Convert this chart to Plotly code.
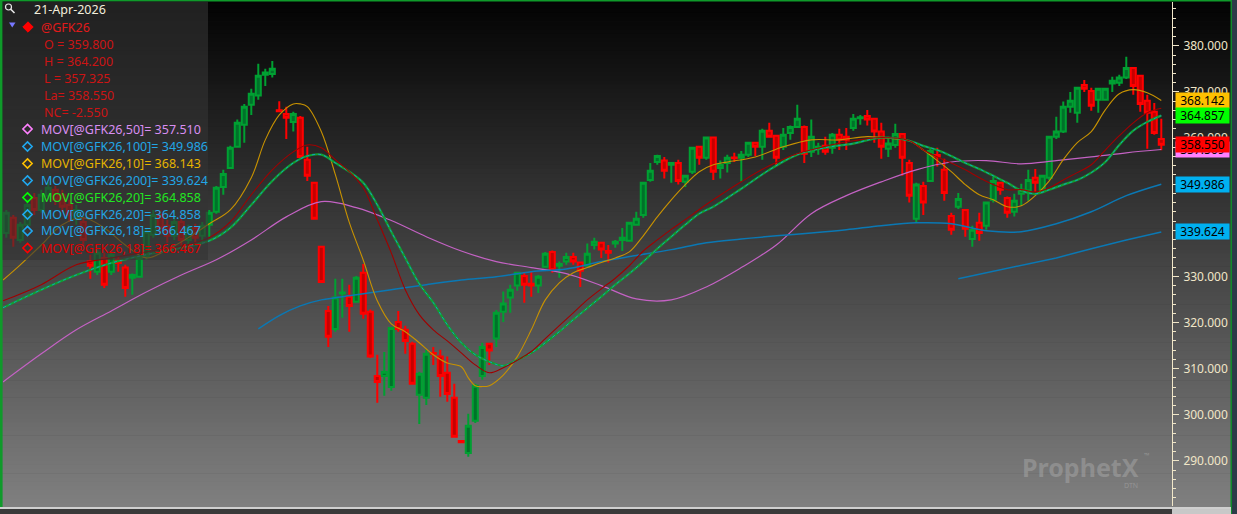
import plotly.graph_objects as go

# ---------------- data ----------------
bar_index = list(range(166))

opens = [339.4, 342.7, 337.9, 341.2, 347.0, 344.4, 347.5, 348.8, 347.7, 345.5,
         342.7, 341.8, 333.2, 331.0, 334.0, 331.0, 333.6, 331.9, 329.7, 329.9,
         334.2, 339.0, 343.3, 341.0, 338.8, 341.8, 337.9, 340.5, 338.8, 341.2,
         344.0, 349.4, 353.5, 358.1, 362.9, 367.2, 369.2, 373.7, 373.9, 366.0,
         365.2, 363.5, 364.4, 355.3, 350.3, 336.4, 322.5, 318.6, 326.3, 325.6,
         324.5, 330.8, 322.3, 308.4, 308.4, 306.0, 320.1, 318.4, 315.4, 304.3,
         303.7, 313.4, 312.6, 309.1, 303.7, 294.3, 291.7, 298.7, 308.4, 315.4,
         316.5, 322.3, 325.4, 328.0, 330.1, 328.4, 328.0, 332.1, 335.3, 332.3,
         333.2, 334.2, 333.0, 332.3, 336.8, 337.3, 335.5, 337.1, 337.9, 337.7,
         341.2, 343.3, 350.9, 354.8, 355.1, 354.2, 354.6, 350.5, 352.7, 358.1,
         355.7, 360.1, 353.5, 354.6, 355.8, 355.7, 356.4, 359.0, 358.1, 361.6,
         360.5, 358.1, 361.1, 362.4, 362.4, 357.0, 357.9, 358.3, 357.9, 360.7,
         360.3, 362.2, 364.3, 364.8, 364.2, 361.4, 357.7, 358.5, 360.9, 354.6,
         342.5, 349.6, 350.7, 356.3, 353.1, 343.1, 345.1, 344.4, 338.1, 341.6,
         341.0, 346.6, 350.3, 347.0, 344.0, 347.9, 348.6, 351.4, 348.8, 351.4,
         360.3, 361.4, 366.8, 365.5, 371.5, 370.2, 368.3, 368.3, 371.8, 372.0,
         373.1, 375.2, 373.5, 368.1, 365.7, 359.8]
highs = [344.4, 343.3, 341.8, 346.6, 348.1, 348.8, 350.5, 349.6, 348.8, 346.6,
         345.5, 342.7, 334.7, 335.8, 335.1, 335.3, 334.2, 332.5, 330.6, 334.5,
         340.5, 344.4, 344.4, 342.3, 342.7, 342.7, 341.2, 341.4, 341.8, 344.4,
         349.6, 353.1, 358.3, 364.0, 367.4, 370.7, 376.1, 375.0, 376.7, 368.0,
         366.8, 365.7, 364.8, 358.1, 350.5, 336.6, 323.6, 329.5, 329.5, 328.2,
         330.1, 332.7, 322.8, 313.0, 313.6, 318.8, 322.5, 319.3, 315.8, 309.3,
         314.1, 314.7, 314.1, 312.6, 306.7, 294.4, 300.2, 306.7, 315.6, 315.6,
         322.7, 326.7, 328.2, 331.0, 330.8, 331.0, 330.3, 335.3, 335.6, 333.2,
         335.1, 335.1, 333.2, 337.1, 338.4, 337.5, 336.8, 337.9, 340.5, 341.8,
         344.0, 350.5, 354.6, 356.4, 355.9, 354.8, 355.3, 352.0, 358.1, 358.3,
         360.3, 360.3, 355.1, 356.4, 356.8, 357.2, 359.2, 359.2, 362.0, 363.3,
         360.7, 362.2, 362.7, 367.2, 362.7, 364.0, 359.0, 360.3, 361.1, 362.0,
         362.2, 365.2, 365.0, 366.1, 364.2, 363.3, 360.3, 363.1, 361.1, 355.3,
         350.3, 350.5, 357.7, 357.9, 355.5, 343.8, 348.1, 344.6, 341.0, 343.8,
         346.2, 351.6, 350.5, 347.3, 347.9, 350.1, 353.1, 353.3, 352.0, 360.5,
         364.6, 367.9, 370.0, 371.1, 372.6, 370.9, 370.7, 370.9, 373.3, 373.7,
         377.6, 375.4, 373.7, 369.4, 367.6, 364.2]
lows = [338.4, 336.4, 337.3, 340.5, 343.3, 343.8, 346.6, 345.5, 344.0, 341.8,
        341.2, 336.8, 329.5, 330.3, 327.5, 330.3, 331.0, 325.6, 326.0, 329.7,
        333.6, 338.4, 339.0, 337.3, 337.9, 336.6, 335.8, 337.1, 337.5, 338.6,
        343.6, 347.7, 353.3, 357.9, 359.0, 365.0, 368.3, 371.3, 373.1, 365.7,
        359.8, 361.4, 355.7, 350.7, 342.3, 328.6, 314.7, 318.0, 321.0, 318.0,
        324.3, 320.8, 312.3, 302.6, 304.1, 305.2, 318.0, 313.2, 306.5, 298.0,
        302.1, 310.8, 303.9, 302.8, 295.0, 293.9, 290.9, 298.2, 307.6, 310.8,
        314.7, 320.1, 322.1, 326.9, 324.3, 325.6, 326.4, 331.9, 330.8, 329.7,
        332.5, 332.5, 327.7, 332.1, 335.8, 334.0, 333.0, 336.2, 335.5, 337.5,
        341.0, 342.7, 350.5, 354.2, 351.2, 350.3, 349.9, 349.4, 352.2, 354.2,
        355.3, 350.9, 351.2, 352.5, 354.8, 350.5, 355.9, 356.1, 355.3, 360.1,
        353.8, 357.4, 359.6, 362.2, 354.6, 355.9, 356.4, 356.4, 356.6, 357.4,
        357.4, 361.6, 362.9, 362.7, 359.0, 355.5, 355.9, 357.9, 351.8, 346.0,
        341.6, 343.3, 350.5, 353.8, 346.4, 339.0, 344.6, 338.6, 336.4, 337.7,
        340.1, 346.0, 347.7, 342.7, 343.0, 345.3, 346.4, 348.3, 348.3, 350.9,
        359.8, 361.1, 365.5, 363.3, 370.0, 365.9, 365.5, 368.1, 370.0, 371.3,
        372.8, 369.4, 365.7, 357.7, 360.7, 357.325]
closes = [343.8, 338.4, 341.2, 345.5, 344.4, 347.7, 349.2, 346.6, 345.1, 343.3,
          344.4, 337.9, 332.3, 335.1, 328.2, 334.7, 332.9, 327.5, 330.3, 334.0,
          339.7, 343.3, 340.5, 338.8, 341.8, 337.9, 340.5, 338.4, 341.0, 343.8,
          349.2, 352.2, 357.9, 363.3, 366.8, 369.6, 373.5, 374.2, 375.0, 365.8,
          364.4, 365.2, 355.9, 351.8, 342.5, 328.8, 316.9, 325.4, 326.5, 323.6,
          329.7, 321.9, 312.6, 307.1, 309.3, 318.8, 318.6, 316.0, 306.7, 308.9,
          313.2, 313.2, 308.4, 304.5, 295.2, 294.0, 297.6, 306.3, 314.7, 313.9,
          322.1, 324.1, 327.1, 330.8, 328.2, 328.0, 329.9, 334.9, 331.4, 332.7,
          334.2, 333.2, 331.2, 334.9, 337.5, 335.8, 335.1, 337.5, 338.4, 341.6,
          342.5, 350.3, 352.9, 356.1, 352.9, 354.6, 350.7, 351.8, 357.9, 355.7,
          360.1, 352.7, 354.2, 355.7, 355.6, 356.4, 359.0, 358.1, 361.6, 360.3,
          355.7, 360.7, 362.4, 364.2, 356.6, 360.3, 358.1, 357.0, 360.7, 359.6,
          359.6, 364.2, 364.5, 364.0, 361.4, 358.1, 358.8, 360.9, 355.7, 347.5,
          349.9, 346.0, 357.2, 356.0, 348.1, 340.1, 346.8, 340.3, 340.1, 339.4,
          346.0, 350.7, 348.8, 343.8, 346.4, 348.8, 350.9, 350.3, 351.8, 360.3,
          361.4, 366.8, 368.1, 370.9, 370.7, 367.0, 370.7, 370.7, 372.4, 373.1,
          375.2, 371.3, 367.4, 365.5, 361.1, 358.55]

# moving-average lines, values at these bar positions
ma10_idx = [-0.47, 2, 5, 8, 11, 14, 17, 20, 23, 26, 29, 32, 35, 37, 39, 41, 42, 43, 45, 47,
            49, 51, 53, 55, 57, 59, 61, 63, 65, 66, 67, 68, 69, 71, 73, 75, 77, 79, 81, 83,
            85, 87, 89, 91, 93, 95, 97, 99, 101, 103, 107, 111, 115, 119, 123, 127, 129, 131, 133, 135,
            137, 139, 141, 143, 145, 147, 149, 151, 153, 155, 157, 159, 161, 163, 165]
ma10_val = [329.2, 332.5, 336.8, 341.2, 342.7, 340.5, 336.8, 334.0, 335.8, 338.4,
            341.4, 344.4, 351.4, 359.6, 365.0, 367.4, 367.4, 366.8, 361.4, 352.1,
            341.7, 333.5, 324.7, 319.7, 318.0, 315.6, 313.0, 311.2, 310.4, 308.0,
            306.3, 306.1, 306.3, 308.6, 312.6, 318.4, 324.9, 328.6, 330.8, 331.9,
            333.0, 334.0, 335.3, 338.8, 342.9, 346.6, 349.9, 352.7, 354.2, 354.8,
            355.9, 358.1, 359.6, 359.6, 360.3, 359.8, 359.4, 357.4, 355.1, 352.7,
            349.9, 347.7, 346.6, 345.1, 345.3, 347.5, 350.7, 355.3, 359.0, 361.4,
            366.1, 369.6, 370.5, 369.8, 368.142]

ma_fast_idx = [-0.47, 5, 10, 15, 20, 25, 29, 32, 35, 38, 41, 43, 45, 47, 49, 51, 53, 55, 57, 59,
               61, 63, 65, 67, 69, 71, 73, 75, 77, 79, 81, 83, 85, 87, 89, 91, 93, 95, 97, 99,
               101, 105, 109, 113, 117, 121, 125, 129, 131, 133, 135, 137, 139, 141, 143, 145, 147, 149, 151, 153,
               155, 157, 159, 161, 163, 165]
ma20_val = [323.2, 327.1, 330.3, 332.9, 334.7, 336.2, 337.7, 340.5, 345.5, 350.7,
            354.6, 356.1, 356.4, 354.6, 352.7, 350.3, 345.5, 339.7, 334.0, 328.4,
            324.3, 319.5, 315.6, 313.0, 311.5, 310.6, 311.9, 313.4, 315.6, 318.0,
            320.6, 323.1, 325.6, 328.2, 330.6, 333.2, 336.0, 338.6, 341.2, 343.6,
            345.1, 349.0, 353.1, 356.4, 357.9, 358.8, 360.1, 359.4, 358.3, 357.4,
            356.1, 354.6, 353.3, 351.8, 350.3, 348.6, 347.9, 348.8, 349.9, 350.9,
            352.5, 354.8, 358.5, 361.6, 363.5, 364.858]
ma18_val = [324.7, 328.2, 332.5, 334.0, 335.3, 336.6, 338.4, 341.8, 347.7, 353.1,
            357.0, 358.5, 357.9, 355.3, 352.7, 349.2, 342.3, 335.1, 327.1, 321.7,
            318.4, 316.0, 313.4, 310.8, 309.1, 310.2, 311.8, 313.7, 316.5, 319.3,
            322.1, 324.9, 327.3, 329.6, 332.3, 335.5, 337.9, 340.2, 342.3, 344.5,
            346.6, 350.5, 354.0, 356.6, 358.2, 359.4, 360.1, 359.4, 357.4, 355.9,
            354.6, 353.1, 351.4, 349.9, 348.8, 348.8, 348.3, 349.2, 350.9, 352.5,
            354.2, 357.4, 360.5, 363.3, 365.5, 366.467]

ma50_idx = [-0.47] + list(range(5, 166, 5))
ma50_val = [307.1, 313.2, 318.4, 322.5, 326.6, 330.3, 333.6, 337.9, 342.9, 346.2,
            344.9, 342.1, 338.6, 335.5, 333.2, 331.9, 330.6, 328.0, 325.1, 324.9,
            327.7, 331.9, 336.8, 343.6, 347.5, 350.5, 353.1, 354.8, 355.1, 354.4,
            355.1, 355.9, 356.8, 357.51]

ma100_idx = [36, 39, 42, 45, 50, 55, 60, 65, 70, 75, 80, 85, 90, 95, 100, 105, 110, 115,
             120, 125, 130, 135, 140, 145, 150, 155, 160, 165]
ma100_val = [318.6, 321.5, 323.6, 324.9, 326.0, 327.1, 328.2, 329.2, 329.9, 331.0,
             331.6, 333.2, 334.5, 335.8, 337.3, 338.1, 338.8, 339.4, 340.1, 341.0,
             341.6, 341.4, 339.9, 339.7, 341.4, 344.0, 347.5, 349.986]

ma200_idx = [136, 140, 145, 150, 155, 160, 165]
ma200_val = [329.5, 330.8, 332.3, 334.0, 336.0, 337.9, 339.624]

date_label = "21-Apr-2026"
symbol = "@GFK26"
ohlc_lines = ["O = 359.800", "H = 364.200", "L = 357.325", "La= 358.550", "NC= -2.550"]
study_labels = ["MOV[@GFK26,50]= 357.510", "MOV[@GFK26,100]= 349.986",
                "MOV[@GFK26,10]= 368.143", "MOV[@GFK26,200]= 339.624",
                "MOV[@GFK26,20]= 364.858", "MOV[@GFK26,20]= 364.858",
                "MOV[@GFK26,18]= 366.467", "MOV[@GFK26,18]= 366.467"]
study_text_colors = ["#d98ef2", "#22a6e6", "#e6b400", "#22a6e6",
                     "#22e622", "#22a6e6", "#22a6e6", "#e00000"]
study_icon_colors = ["#ff80ff", "#20a8f0", "#ffc000", "#20a8f0",
                     "#00ff00", "#20a8f0", "#20a8f0", "#ff0000"]

axis_labels = [(368.142, "368.142", "#ffc000"), (364.857, "364.857", "#00ff00"),
               (357.509, "357.509", "#ff80ff"), (358.550, "358.550", "#ff0000"),
               (349.986, "349.986", "#00b0f0"), (339.624, "339.624", "#00b0f0")]

# ---------------- layout helpers ----------------
W, H = 1237, 514
ML, MR, MT, MB = 3, 65, 2, 8
PW, PH = W - ML - MR, H - MT - MB
FONT = "Noto Sans, Open Sans, DejaVu Sans, sans-serif"
CREAM = "#f0e6c8"


def px(x):
    return (x - ML) / PW


def py(y):
    return 1 - (y - MT) / PH


fig = go.Figure()

fig.add_trace(go.Candlestick(
    x=bar_index, open=opens, high=highs, low=lows, close=closes,
    increasing=dict(line=dict(color="#00a032", width=2), fillcolor="#00722a"),
    decreasing=dict(line=dict(color="#ff0000", width=2), fillcolor="#c40000"),
    whiskerwidth=0, showlegend=False, hoverinfo="skip"))

fig.add_trace(go.Scatter(x=ma50_idx, y=ma50_val, mode="lines",
                         line=dict(color="#c462c4", width=1.2, shape="spline"),
                         showlegend=False, hoverinfo="skip"))
fig.add_trace(go.Scatter(x=ma100_idx, y=ma100_val, mode="lines",
                         line=dict(color="#0a78b4", width=1.5, shape="spline"),
                         showlegend=False, hoverinfo="skip"))
fig.add_trace(go.Scatter(x=ma200_idx, y=ma200_val, mode="lines",
                         line=dict(color="#0a78b4", width=1.5),
                         showlegend=False, hoverinfo="skip"))
fig.add_trace(go.Scatter(x=ma10_idx, y=ma10_val, mode="lines",
                         line=dict(color="#c89200", width=1.1, shape="spline"),
                         showlegend=False, hoverinfo="skip"))
fig.add_trace(go.Scatter(x=ma_fast_idx, y=ma20_val, mode="lines",
                         line=dict(color="#10a030", width=2.2, shape="spline"),
                         showlegend=False, hoverinfo="skip"))
fig.add_trace(go.Scatter(x=ma_fast_idx, y=ma20_val, mode="lines",
                         line=dict(color="#10a0c0", width=1, dash="dot", shape="spline"),
                         showlegend=False, hoverinfo="skip"))
fig.add_trace(go.Scatter(x=ma_fast_idx, y=ma18_val, mode="lines",
                         line=dict(color="#a00000", width=1.1, shape="spline"),
                         showlegend=False, hoverinfo="skip"))

shapes = []
# vertical grey gradient background
n = 120
g_top, g_bot = 0, 507
for k in range(n):
    y0 = g_top + (g_bot - g_top) * k / n
    y1 = g_top + (g_bot - g_top) * (k + 1) / n + 0.6
    v = int(round(2 + 126 * (k + 0.5) / n))
    shapes.append(dict(type="rect", xref="paper", yref="paper", layer="below",
                       x0=px(0), x1=px(1231), y0=py(y1), y1=py(y0),
                       fillcolor=f"rgb({v},{v},{v})", line=dict(width=0)))
# window frame
shapes.append(dict(type="rect", xref="paper", yref="paper", layer="above",
                   x0=px(1231.5), x1=px(1237), y0=py(514), y1=py(0),
                   fillcolor="#2c3a48", line=dict(width=0)))
shapes.append(dict(type="rect", xref="paper", yref="paper", layer="above",
                   x0=px(1230.5), x1=px(1232), y0=py(514), y1=py(0),
                   fillcolor="#0f8a2a", line=dict(width=0)))
shapes.append(dict(type="rect", xref="paper", yref="paper", layer="above",
                   x0=px(0), x1=px(1231), y0=py(1.6), y1=py(0),
                   fillcolor="#0f9a2a", line=dict(width=0)))
shapes.append(dict(type="rect", xref="paper", yref="paper", layer="above",
                   x0=px(0), x1=px(2.6), y0=py(507), y1=py(0),
                   fillcolor="#0f9a2a", line=dict(width=0)))
shapes.append(dict(type="rect", xref="paper", yref="paper", layer="above",
                   x0=px(0), x1=px(1231), y0=py(509), y1=py(507),
                   fillcolor="#cfcfcf", line=dict(width=0)))
shapes.append(dict(type="rect", xref="paper", yref="paper", layer="above",
                   x0=px(0), x1=px(1172), y0=py(514), y1=py(509),
                   fillcolor="#3a3a3a", line=dict(width=0)))
shapes.append(dict(type="rect", xref="paper", yref="paper", layer="above",
                   x0=px(1172), x1=px(1231), y0=py(514), y1=py(509),
                   fillcolor="#c8c8c8", line=dict(width=0)))
# data window box
shapes.append(dict(type="rect", xref="paper", yref="paper", layer="above",
                   x0=px(2.6), x1=px(208), y0=py(260), y1=py(1.6),
                   fillcolor="rgba(52,52,52,0.62)", line=dict(width=0)))
# magnifier icon
shapes.append(dict(type="circle", xref="paper", yref="paper", layer="above",
                   x0=px(5.5), x1=px(11.5), y0=py(10), y1=py(4),
                   line=dict(color="#e8e8e8", width=1.2)))
shapes.append(dict(type="line", xref="paper", yref="paper", layer="above",
                   x0=px(10.5), x1=px(14.5), y0=py(9), y1=py(13),
                   line=dict(color="#e8e8e8", width=1.6)))
# collapse triangle
shapes.append(dict(type="path", xref="paper", yref="paper", layer="above",
                   path=f"M {px(9)},{py(22.5)} L {px(15.5)},{py(22.5)} L {px(12.25)},{py(27.5)} Z",
                   fillcolor="#7878ff", line=dict(width=0)))


def diamond(cx, cy, r):
    return (f"M {px(cx)},{py(cy - r)} L {px(cx + r)},{py(cy)} "
            f"L {px(cx)},{py(cy + r)} L {px(cx - r)},{py(cy)} Z")


shapes.append(dict(type="path", xref="paper", yref="paper", layer="above",
                   path=diamond(28, 27, 5.2), fillcolor="#ff0000",
                   line=dict(color="#ff0000", width=1)))
study_y = [129, 146.5, 163.5, 180.5, 197.5, 214.5, 231, 248]
for yy, col in zip(study_y, study_icon_colors):
    shapes.append(dict(type="path", xref="paper", yref="paper", layer="above",
                       path=diamond(27.5, yy, 4.6), fillcolor="rgba(0,0,0,0)",
                       line=dict(color=col, width=1.6)))

annotations = []


def txt(x, y, s, color, size=12.5, anchor="left", bold=False):
    annotations.append(dict(x=px(x), y=py(y), xref="paper", yref="paper",
                            xanchor=anchor, yanchor="middle", showarrow=False,
                            text=f"<b>{s}</b>" if bold else s,
                            font=dict(family=FONT, size=size, color=color)))


txt(32, 10, date_label, "#f2eedc")
txt(39, 27, symbol, "#e21a1a")
for k, s in enumerate(ohlc_lines):
    txt(42, 44.5 + 17 * k, s, "#cc1414")
for s, col, yy in zip(study_labels, study_text_colors, study_y):
    txt(38.5, yy, s, col)

# watermark
annotations.append(dict(x=px(1080), y=py(467), xref="paper", yref="paper",
                        xanchor="center", yanchor="middle", showarrow=False,
                        text="<b>Prophet</b><b>X</b>",
                        font=dict(family=FONT, size=25, color="rgba(190,190,190,0.36)")))
annotations.append(dict(x=px(1142), y=py(455), xref="paper", yref="paper",
                        xanchor="left", yanchor="middle", showarrow=False,
                        text="™", font=dict(family=FONT, size=7, color="rgba(190,190,190,0.45)")))
annotations.append(dict(x=px(1140), y=py(485), xref="paper", yref="paper",
                        xanchor="right", yanchor="middle", showarrow=False,
                        text="DTN", font=dict(family=FONT, size=7, color="rgba(190,190,190,0.40)")))

# value flags on the price axis
for val, s, bg in axis_labels:
    annotations.append(dict(x=1, xref="paper", xanchor="left", xshift=2.5,
                            y=val, yref="y", yanchor="middle", showarrow=False,
                            text=s, bgcolor=bg, width=53, height=15, borderpad=0,
                            font=dict(family=FONT, size=12, color="#000000")))

fig.update_layout(
    width=W, height=H,
    margin=dict(l=ML, r=MR, t=MT, b=MB, pad=0),
    paper_bgcolor="#202020", plot_bgcolor="rgba(0,0,0,0)",
    showlegend=False, hovermode=False,
    boxgap=0.15, boxgroupgap=0.15,
    shapes=shapes, annotations=annotations,
    xaxis=dict(visible=False, range=[-0.47, 166.53], rangeslider=dict(visible=False),
               fixedrange=True),
    yaxis=dict(side="right", range=[280.2, 389.5], showgrid=False, zeroline=False,
               showline=True, linecolor=CREAM, linewidth=1,
               ticks="outside", ticklen=6, tickwidth=1, tickcolor=CREAM,
               dtick=10, tick0=0, tickformat=".3f", ticklabelstandoff=2,
               tickfont=dict(family=FONT, size=12, color=CREAM),
               minor=dict(dtick=2, ticks="outside", ticklen=3, tickcolor=CREAM,
                          showgrid=False),
               fixedrange=True),
)

fig.write_html("out.html", config={"displayModeBar": False},
               post_script="document.body.style.margin='0';document.body.style.overflow='hidden';")
